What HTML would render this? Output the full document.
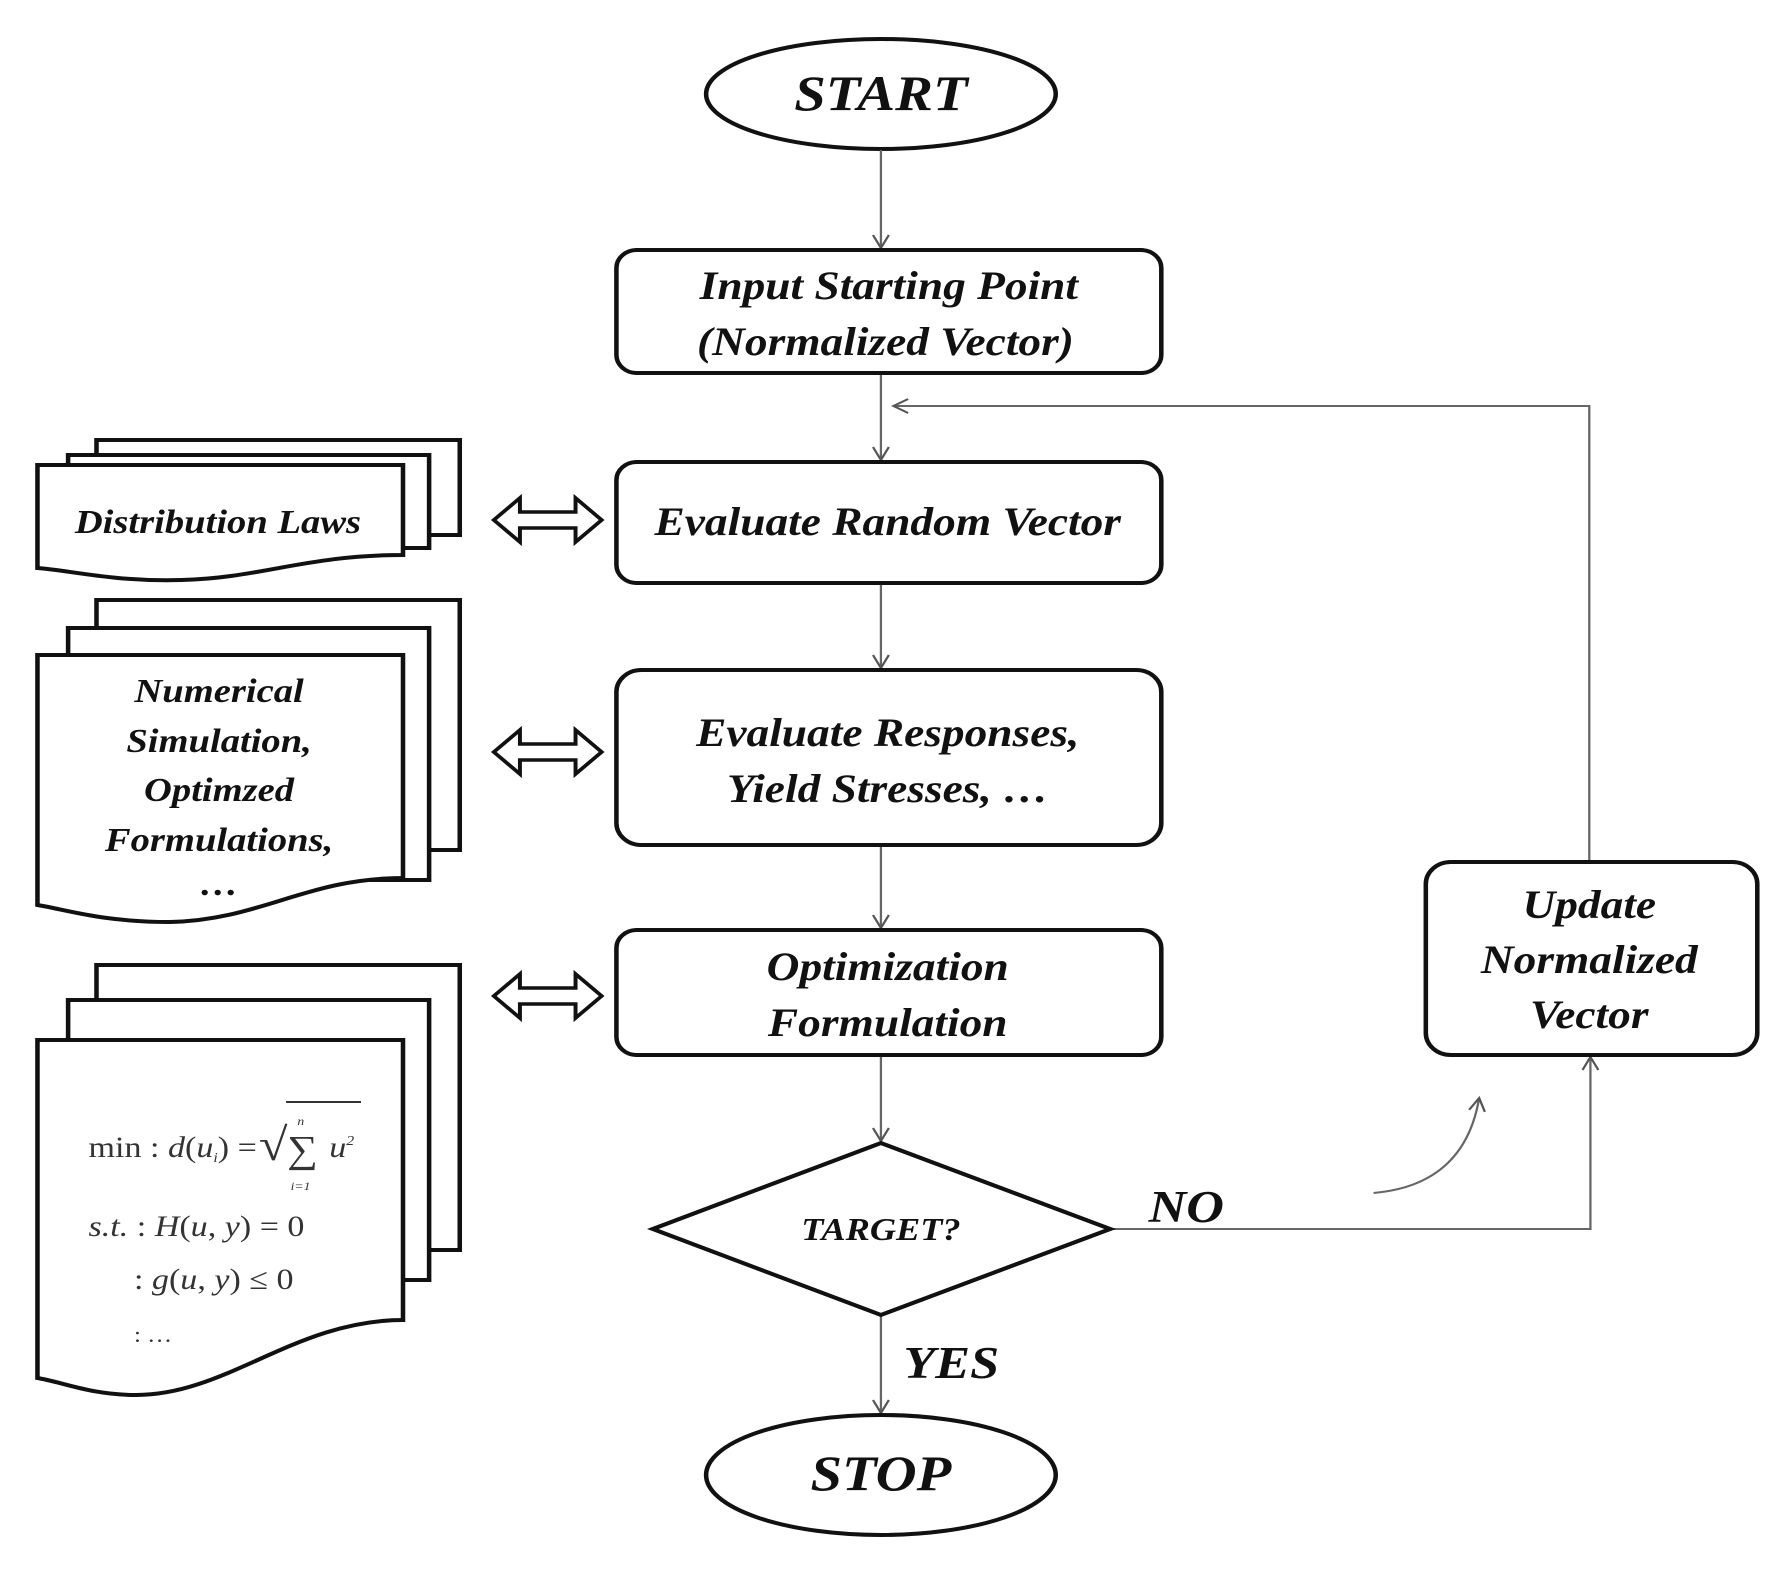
<!DOCTYPE html>
<html><head><meta charset="utf-8"><style>html,body{margin:0;padding:0;background:#fff;}svg{display:block;}</style></head>
<body>
<svg width="1780" height="1576" viewBox="0 0 1568 1576" preserveAspectRatio="none" xmlns="http://www.w3.org/2000/svg">
<defs>
<marker id="ar" markerWidth="16" markerHeight="16" refX="14" refY="8" orient="auto" markerUnits="userSpaceOnUse">
<path d="M1,1 L14,8 L1,15" fill="none" stroke="#555" stroke-width="2"/>
</marker>
</defs>
<g font-family="Liberation Serif, serif" font-weight="bold" font-style="italic" fill="#111" text-anchor="middle">
<!-- START -->
<ellipse cx="776" cy="94" rx="154" ry="55" fill="#fff" stroke="#111" stroke-width="4"/>
<text x="776" y="110" font-size="50">START</text>
<!-- connectors -->
<g stroke="#666" stroke-width="2" fill="none">
<line x1="776" y1="150" x2="776" y2="248" marker-end="url(#ar)"/>
<line x1="776" y1="373" x2="776" y2="460" marker-end="url(#ar)"/>
<line x1="776" y1="583" x2="776" y2="668" marker-end="url(#ar)"/>
<line x1="776" y1="845" x2="776" y2="928" marker-end="url(#ar)"/>
<line x1="776" y1="1055" x2="776" y2="1141" marker-end="url(#ar)"/>
<line x1="776" y1="1315" x2="776" y2="1413" marker-end="url(#ar)"/>
<polyline points="1400,862 1400,406 787,406" marker-end="url(#ar)"/>
<polyline points="978,1229 1401,1229 1401,1057" marker-end="url(#ar)"/>
<path d="M1210,1193 Q1290,1185 1303,1098" marker-end="url(#ar)"/>
</g>
<!-- boxes -->
<g fill="#fff" stroke="#111" stroke-width="4">
<rect x="543" y="250" width="480" height="123" rx="18"/>
<rect x="543" y="462" width="480" height="121" rx="18"/>
<rect x="543" y="670" width="480" height="175" rx="22"/>
<rect x="543" y="930" width="480" height="125" rx="18"/>
<rect x="1256" y="862" width="292" height="193" rx="22"/>
<polygon points="575,1229 776,1143 978,1229 776,1315"/>
<ellipse cx="776" cy="1475" rx="154" ry="60"/>
</g>
<text x="783" y="299" font-size="40">Input Starting Point</text>
<text x="780" y="355" font-size="40">(Normalized Vector)</text>
<text x="782" y="535" font-size="40">Evaluate Random Vector</text>
<text x="782" y="746" font-size="40">Evaluate Responses,</text>
<text x="782" y="802" font-size="40">Yield Stresses, …</text>
<text x="782" y="980" font-size="40">Optimization</text>
<text x="782" y="1036" font-size="40">Formulation</text>
<text x="1400" y="918" font-size="40">Update</text>
<text x="1400" y="973" font-size="40">Normalized</text>
<text x="1400" y="1028" font-size="40">Vector</text>
<text x="776" y="1240" font-size="32">TARGET?</text>
<text x="776" y="1490" font-size="50">STOP</text>
<text x="1045" y="1222" font-size="46">NO</text>
<text x="838" y="1378" font-size="46">YES</text>
<!-- documents -->
<g fill="#fff" stroke="#111" stroke-width="4">
<rect x="85" y="440" width="320" height="95"/>
<rect x="60" y="455" width="318" height="93"/>
<path d="M33,465 H355 V555 C270,555 230,578 160,580 C100,582 60,570 33,568 Z"/>
<rect x="85" y="600" width="320" height="250"/>
<rect x="60" y="628" width="318" height="252"/>
<path d="M33,655 H355 V878 C270,878 230,920 150,922 C90,922 60,910 33,905 Z"/>
<rect x="85" y="965" width="320" height="285"/>
<rect x="60" y="1000" width="318" height="280"/>
<path d="M33,1040 H355 V1320 C260,1320 200,1395 120,1395 C80,1395 55,1382 33,1378 Z"/>
</g>
<text x="192" y="533" font-size="34">Distribution Laws</text>
<text x="193" y="702" font-size="34">Numerical</text>
<text x="193" y="752" font-size="34">Simulation,</text>
<text x="193" y="801" font-size="34">Optimzed</text>
<text x="193" y="851" font-size="34">Formulations,</text>
<text x="193" y="895" font-size="34">…</text>
<g font-style="normal" font-weight="normal" fill="#333" text-anchor="start" font-size="30">
<text x="78" y="1157">min : <tspan font-style="italic">d</tspan>(<tspan font-style="italic">u<tspan font-size="14" dy="5">i</tspan></tspan><tspan dy="-5">) =</tspan></text>
<text x="228" y="1160" font-size="46">√</text>
<line x1="252" y1="1102" x2="318" y2="1102" stroke="#333" stroke-width="2"/>
<text x="253" y="1162" font-size="38">∑</text>
<text x="262" y="1125" font-size="12" font-style="italic">n</text>
<text x="256" y="1190" font-size="12" font-style="italic">i=1</text>
<text x="290" y="1157" font-style="italic">u<tspan font-size="14" dy="-12">2</tspan></text>
<text x="78" y="1236"><tspan font-style="italic">s.t.</tspan>  : <tspan font-style="italic">H</tspan>(<tspan font-style="italic">u</tspan>, <tspan font-style="italic">y</tspan>) = 0</text>
<text x="118" y="1289">: <tspan font-style="italic">g</tspan>(<tspan font-style="italic">u</tspan>, <tspan font-style="italic">y</tspan>) ≤ 0</text>
<text x="118" y="1342" font-size="22">: …</text>
</g>
<!-- double arrows -->
<g fill="#fff" stroke="#111" stroke-width="3.5" stroke-linejoin="miter">
<path d="M435,520 L458,498 V512 H507 V498 L530,520 L507,542 V528 H458 V542 Z"/>
<path d="M435,752 L458,730 V744 H507 V730 L530,752 L507,774 V760 H458 V774 Z"/>
<path d="M435,996 L458,974 V988 H507 V974 L530,996 L507,1018 V1004 H458 V1018 Z"/>
</g>
</g>
</svg>
</body></html>
